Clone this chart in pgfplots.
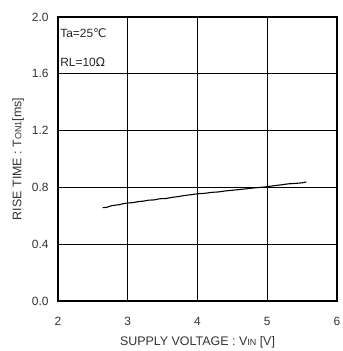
\documentclass[border=0pt]{standalone}
\usepackage{pgfplots}
\pgfplotsset{compat=1.18}
\usepackage{fontspec}
\setmainfont{Liberation Sans}
\newfontfamily\dejavu{DejaVu Sans}
\begin{document}
\begin{tikzpicture}
\path[use as bounding box] (-58bp,-50bp) rectangle (285bp,301bp);
\begin{axis}[
  at={(0,0)}, anchor=origin,
  scale only axis, width=279bp, height=284bp,
  xmin=2, xmax=6, ymin=0, ymax=2,
  xtick={2,3,4,5,6}, ytick={0,0.4,0.8,1.2,1.6,2.0},
  yticklabel style={/pgf/number format/fixed,/pgf/number format/fixed zerofill,/pgf/number format/precision=1},
  /pgf/number format/assume math mode=true,
  tick label style={font=\fontsize{12}{14}\selectfont, text=black!80},
  xticklabel style={yshift=-13bp},
  yticklabel style={xshift=-6bp},
  major tick length=0pt,
  grid=major, grid style={black, line width=0.6bp},
  axis line style={black, line width=1.5bp},
  xlabel={SUPPLY VOLTAGE : V{\fontsize{9}{9}\selectfont IN} [V]},
  ylabel={RISE TIME : T{\fontsize{9}{9}\selectfont ON1}[ms]},
  label style={font=\fontsize{12.5}{14}\selectfont, text=black!80},
  xlabel style={yshift=-4bp},
  ylabel style={yshift=1bp},
  clip=false,
]
\addplot[black, line width=1.1bp] coordinates {
(2.64,0.657)(2.70,0.660)(2.76,0.670)(2.82,0.675)(2.88,0.678)(2.94,0.686)(3.00,0.690)
(3.08,0.693)(3.15,0.700)(3.22,0.703)(3.30,0.710)(3.38,0.712)(3.46,0.720)(3.55,0.722)
(3.64,0.730)(3.72,0.735)(3.80,0.742)(3.90,0.748)(4.00,0.755)(4.10,0.758)(4.20,0.765)
(4.30,0.768)(4.40,0.775)(4.50,0.780)(4.60,0.785)(4.70,0.790)(4.80,0.796)(4.90,0.800)
(5.00,0.805)(5.10,0.812)(5.20,0.818)(5.30,0.825)(5.40,0.828)(5.50,0.832)(5.56,0.838)
};
\node[anchor=west, inner sep=0pt, font=\fontsize{12}{14}\selectfont, text=black!85] at (axis cs:2.03,1.885) {Ta=25{\dejavu ℃}};
\node[anchor=west, inner sep=0pt, font=\fontsize{12}{14}\selectfont, text=black!85] at (axis cs:2.03,1.68) {RL=10{\dejavu Ω}};
\end{axis}
\end{tikzpicture}
\end{document}
